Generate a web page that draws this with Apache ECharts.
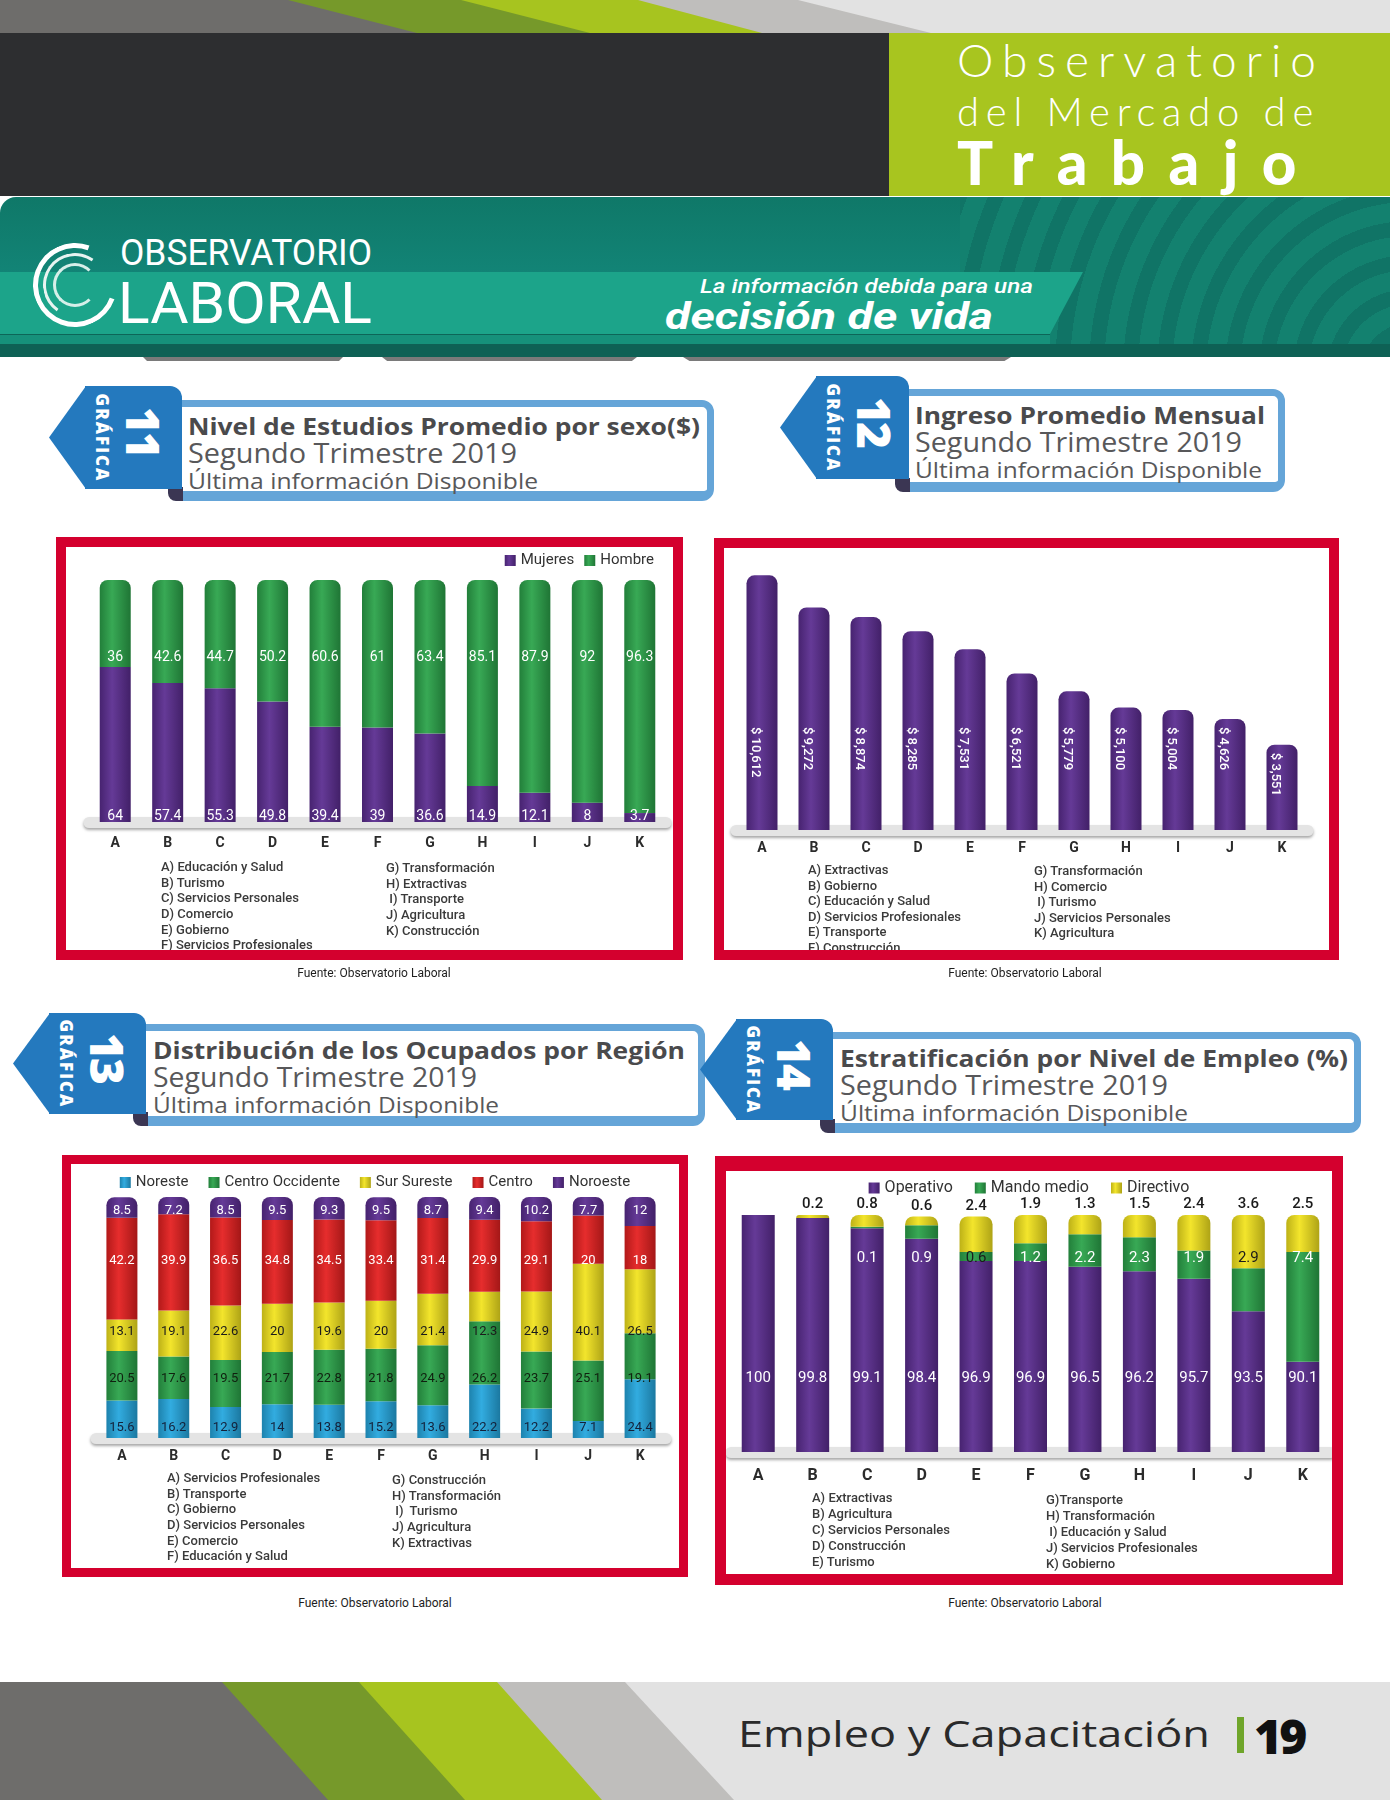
<!DOCTYPE html>
<html lang="es">
<head>
<meta charset="utf-8">
<title>Empleo y Capacitación 19</title>
<script src="https://cdn.jsdelivr.net/npm/echarts@6/dist/echarts.min.js"></script>
<style>
  body { margin: 0; background: #fff; }
  #page { position: relative; width: 1390px; height: 1800px; overflow: hidden; font-family: 'Open Sans', sans-serif; }
  .a { position: absolute; }
  .fit { position: absolute; white-space: nowrap; line-height: 1; transform: translateY(-50%); transform-origin: 0 50%; }
  .frame { position: absolute; box-sizing: border-box; border: 10px solid #d4002e; overflow: hidden; background: #fff; }
  .chart { position: absolute; left: 0; top: 0; width: 100%; height: 100%; }
  .sect { position: absolute; font-family: Roboto, sans-serif; font-size: 13px; font-weight: 500; color: #3a3a3a; white-space: pre; }
  .fuente { position: absolute; font-family: Roboto, sans-serif; font-size: 12px; color: #1e1e1e; transform: translate(-50%, -50%); white-space: nowrap; }
</style>
</head>
<body>
<div id="page">
  <!-- franja superior -->
  <div class="a" style="left:0;top:0;width:1390px;height:33px;background:#e2e2e2"></div>
  <div class="a" style="left:0;top:0;width:1390px;height:33px;background:#bfbebc;clip-path:polygon(0 0,798px 0,931px 33px,0 33px)"></div>
  <div class="a" style="left:0;top:0;width:1390px;height:33px;background:#a7c41f;clip-path:polygon(0 0,638px 0,762px 33px,0 33px)"></div>
  <div class="a" style="left:0;top:0;width:1390px;height:33px;background:#76992a;clip-path:polygon(0 0,461px 0,590px 33px,0 33px)"></div>
  <div class="a" style="left:0;top:0;width:1390px;height:33px;background:#6e6d6b;clip-path:polygon(0 0,288px 0,417px 33px,0 33px)"></div>

  <div class="a" style="left:0;top:33px;width:889px;height:163px;background:#2d2e30"></div>
  <div class="a" style="left:889px;top:33px;width:501px;height:163px;background:#a8c51f"></div>
  <div class="fit" data-ls="368" style="left:957px;top:60px;font-family:Lato;font-weight:300;font-size:46px;color:#fff">Observatorio</div>
  <div class="fit" data-ls="363" style="left:957px;top:111px;font-family:Lato;font-weight:300;font-size:40px;color:#fff">del Mercado de</div>
  <div class="fit" data-ls="363" style="left:957px;top:162px;font-family:Lato;font-weight:900;font-size:60px;color:#fff">Trabajo</div>

  <!-- banner -->
  <div class="a" style="left:0;top:197px;width:1390px;height:160px;background:linear-gradient(180deg,#0f7868 0%,#13877a 60%,#13877a 100%);border-top-left-radius:16px;overflow:hidden">
    <div class="a" style="left:960px;top:0;width:430px;height:160px;background:repeating-radial-gradient(circle at 450px 175px,#107466 0 15px,#13816f 15px 34px)"></div>
    <div class="a" style="left:0;top:75px;width:1083px;height:62px;background:#1ca48a;clip-path:polygon(0 0,1083px 0,1050px 62px,0 62px)"></div>
    <div class="a" style="left:0;top:137px;width:1050px;height:10px;background:#16917b;border-top:1px solid #0d6658"></div>
    <div class="a" style="left:0;top:147px;width:1390px;height:13px;background:#0e6155"></div>
  </div>
  <div class="a" style="left:143px;top:357px;width:200px;height:4px;background:#7a7a7a;clip-path:polygon(0 0,100% 0,98% 100%,2% 100%)"></div>
  <div class="a" style="left:382px;top:357px;width:255px;height:4px;background:#7a7a7a;clip-path:polygon(0 0,100% 0,98% 100%,2% 100%)"></div>
  <div class="a" style="left:683px;top:357px;width:328px;height:4px;background:#7a7a7a;clip-path:polygon(0 0,100% 0,98% 100%,2% 100%)"></div>

  <!-- logo -->
  <div class="a" style="left:33px;top:243px;width:84px;height:84px;box-sizing:border-box;border:5px solid #fff;border-right-color:transparent;border-radius:50%;transform:rotate(-25deg)"></div>
  <div class="a" style="left:43px;top:253px;width:64px;height:64px;box-sizing:border-box;border:3px solid #e8f4f1;border-right-color:transparent;border-bottom-color:transparent;border-radius:50%;transform:rotate(-10deg)"></div>
  <div class="a" style="left:53px;top:263px;width:44px;height:44px;box-sizing:border-box;border:3px solid #d6efe9;border-right-color:transparent;border-radius:50%"></div>
  <div class="fit" data-w="252" style="left:120px;top:253px;font-family:Roboto;font-size:36px;color:#fff">OBSERVATORIO</div>
  <div class="fit" data-w="254" style="left:118px;top:303px;font-family:Roboto;font-size:58px;color:#fff">LABORAL</div>
  <div class="fit" data-w="333" style="left:700px;top:286px;font-family:Roboto;font-style:italic;font-weight:500;font-size:20px;color:#fff">La información debida para una</div>
  <div class="fit" data-w="328" style="left:665px;top:316px;font-family:Roboto;font-style:italic;font-weight:700;font-size:37px;color:#fff">decisión de vida</div>

  <!-- marcos de las gráficas -->
  <div class="frame" id="f11" style="left:56px;top:537px;width:627px;height:423px;border-width:10px">
    <div class="chart" id="c11"></div>
  </div>
  <div class="frame" id="f12" style="left:714px;top:538px;width:625px;height:422px;border-width:10px">
    <div class="chart" id="c12"></div>
  </div>
  <div class="frame" id="f13" style="left:62px;top:1155px;width:626px;height:422px;border-width:9px">
    <div class="chart" id="c13"></div>
  </div>
  <div class="frame" id="f14" style="left:715px;top:1156px;width:628px;height:429px;border-width:15px 11px 11px 11px">
    <div class="chart" id="c14"></div>
  </div>

  <div class="fuente" style="left:374px;top:973px">Fuente: Observatorio Laboral</div>
  <div class="fuente" style="left:1025px;top:973px">Fuente: Observatorio Laboral</div>
  <div class="fuente" style="left:375px;top:1603px">Fuente: Observatorio Laboral</div>
  <div class="fuente" style="left:1025px;top:1603px">Fuente: Observatorio Laboral</div>

  <!-- pie de página -->
  <div class="a" style="left:0;top:1682px;width:1390px;height:118px;background:#e2e2e2"></div>
  <div class="a" style="left:0;top:1682px;width:1390px;height:118px;background:#bfbebc;clip-path:polygon(0 0,625px 0,734px 118px,0 118px)"></div>
  <div class="a" style="left:0;top:1682px;width:1390px;height:118px;background:#a7c41f;clip-path:polygon(0 0,497px 0,602px 118px,0 118px)"></div>
  <div class="a" style="left:0;top:1682px;width:1390px;height:118px;background:#76992a;clip-path:polygon(0 0,359px 0,465px 118px,0 118px)"></div>
  <div class="a" style="left:0;top:1682px;width:1390px;height:118px;background:#6e6d6b;clip-path:polygon(0 0,222px 0,328px 118px,0 118px)"></div>
  <div class="fit" data-w="472" style="left:738px;top:1732px;font-size:37px;color:#2a2a2a">Empleo y Capacitación</div>
  <div class="a" style="left:1237px;top:1717px;width:7px;height:36px;background:#6fa52a"></div>
  <div class="fit" style="left:1254px;top:1736px;font-size:48px;font-weight:800;letter-spacing:-3px;color:#111">19</div>
</div>

<script>
// Categorías y datos de cada gráfica
const cats = ['A', 'B', 'C', 'D', 'E', 'F', 'G', 'H', 'I', 'J', 'K'];

// Gráfica 11
const mujeres11 = [64, 57.4, 55.3, 49.8, 39.4, 39, 36.6, 14.9, 12.1, 8, 3.7];
const hombre11 = [36, 42.6, 44.7, 50.2, 60.6, 61, 63.4, 85.1, 87.9, 92, 96.3];
const sect11 = ['A) Educación y Salud', 'B) Turismo', 'C) Servicios Personales', 'D) Comercio', 'E) Gobierno', 'F) Servicios Profesionales',
  'G) Transformación', 'H) Extractivas', ' I) Transporte', 'J) Agricultura', 'K) Construcción'];

// Gráfica 12
const ingreso12 = [10612, 9272, 8874, 8285, 7531, 6521, 5779, 5100, 5004, 4626, 3551];
const sect12 = ['A) Extractivas', 'B) Gobierno', 'C) Educación y Salud', 'D) Servicios Profesionales', 'E) Transporte', 'F) Construcción',
  'G) Transformación', 'H) Comercio', ' I) Turismo', 'J) Servicios Personales', 'K) Agricultura'];

// Gráfica 13
const noreste13 = [15.6, 16.2, 12.9, 14, 13.8, 15.2, 13.6, 22.2, 12.2, 7.1, 24.4];
const centroOcc13 = [20.5, 17.6, 19.5, 21.7, 22.8, 21.8, 24.9, 26.2, 23.7, 25.1, 19.1];
const surSureste13 = [13.1, 19.1, 22.6, 20, 19.6, 20, 21.4, 12.3, 24.9, 40.1, 26.5];
const centro13 = [42.2, 39.9, 36.5, 34.8, 34.5, 33.4, 31.4, 29.9, 29.1, 20, 18];
const noroeste13 = [8.5, 7.2, 8.5, 9.5, 9.3, 9.5, 8.7, 9.4, 10.2, 7.7, 12];
const sect13 = ['A) Servicios Profesionales', 'B) Transporte', 'C) Gobierno', 'D) Servicios Personales', 'E) Comercio', 'F) Educación y Salud',
  'G) Construcción', 'H) Transformación', ' I)  Turismo', 'J) Agricultura', 'K) Extractivas'];

// Gráfica 14
const operativo14 = [100, 99.8, 99.1, 98.4, 96.9, 96.9, 96.5, 96.2, 95.7, 93.5, 90.1];
const mando14 = [0, 0, 0.1, 0.9, 0.6, 1.2, 2.2, 2.3, 1.9, 2.9, 7.4];
const directivo14 = [0, 0.2, 0.8, 0.6, 2.4, 1.9, 1.3, 1.5, 2.4, 3.6, 2.5];
const sect14 = ['A) Extractivas', 'B) Agricultura', 'C) Servicios Personales', 'D) Construcción', 'E) Turismo',
  'G)Transporte', 'H) Transformación', ' I) Educación y Salud', 'J) Servicios Profesionales', 'K) Gobierno'];

const PURPLE = '#5b2d90', GREEN = '#2ba34a', BLUE = '#25a7de', YELLOW = '#f2e31e', RED = '#e42020';

// encabezados GRÁFICA
const headers = [
  { n: '11', tx: 49, ty: 386, tw: 133, th: 103, bx: 168, by: 400, bw: 546, bh: 101,
    t: 'Nivel de Estudios Promedio por sexo($)', w: [512, 329, 350] },
  { n: '12', tx: 780, ty: 376, tw: 129, th: 103, bx: 895, by: 389, bw: 390, bh: 103,
    t: 'Ingreso Promedio Mensual', w: [350, 327, 347] },
  { n: '13', tx: 13, ty: 1013, tw: 133, th: 101, bx: 133, by: 1024, bw: 572, bh: 102,
    t: 'Distribución de los Ocupados por Región', w: [532, 324, 346] },
  { n: '14', tx: 700, ty: 1019, tw: 133, th: 101, bx: 820, by: 1032, bw: 541, bh: 101,
    t: 'Estratificación por Nivel de Empleo (%)', w: [508, 328, 348] }
];

const page = document.getElementById('page');
function add(parent, cls, style, text) {
  const d = document.createElement('div');
  d.className = cls;
  d.style.cssText = style;
  if (text !== undefined) d.textContent = text;
  parent.appendChild(d);
  return d;
}

headers.forEach(h => {
  add(page, 'a', `left:${h.bx}px;top:${h.by}px;width:${h.bw}px;height:${h.bh}px;box-sizing:border-box;border:7px solid #65a5d8;border-bottom-width:10px;border-radius:12px;background:#fff`);
  add(page, 'a', `left:${h.bx}px;top:${h.by + h.bh - 14}px;width:15px;height:14px;background:#3b3653;border-radius:0 0 0 8px`);
  add(page, 'a', `left:${h.tx}px;top:${h.ty}px;width:37px;height:${h.th}px;background:#2479be;clip-path:polygon(100% 0,100% 100%,0 50%)`);
  add(page, 'a', `left:${h.tx + 36}px;top:${h.ty}px;width:${h.tw - 36}px;height:${h.th}px;background:#2479be;border-radius:0 12px 0 0`);
  add(page, 'a', `left:${h.tx + 53}px;top:${h.ty + h.th / 2}px;transform:translate(-50%,-50%) rotate(90deg);font-weight:800;font-size:17px;letter-spacing:2px;color:#fff;white-space:nowrap;line-height:1`, 'GRÁFICA');
  add(page, 'a', `left:${h.tx + 95}px;top:${h.ty + h.th / 2 - 6}px;transform:translate(-50%,-50%) rotate(90deg);font-weight:800;font-size:46px;letter-spacing:-2px;color:#fff;white-space:nowrap;line-height:1`, h.n);
  add(page, 'fit', `left:${h.bx + 20}px;top:${h.by + 26}px;font-weight:700;font-size:24px;color:#4a4a4c`, h.t).dataset.w = h.w[0];
  add(page, 'fit', `left:${h.bx + 20}px;top:${h.by + 52}px;font-size:27px;color:#58585a`, 'Segundo Trimestre 2019').dataset.w = h.w[1];
  add(page, 'fit', `left:${h.bx + 20}px;top:${h.by + 80}px;font-size:22px;color:#58585a`, 'Última información Disponible').dataset.w = h.w[2];
});

// leyendas de sectores bajo cada gráfica
function sectores(frameId, list, nLeft, xl, yl, xr, yr, lh) {
  const f = document.getElementById(frameId);
  add(f, 'sect', `left:${xl}px;top:${yl - lh / 2}px;line-height:${lh}px`, list.slice(0, nLeft).join('\n'));
  add(f, 'sect', `left:${xr}px;top:${yr - lh / 2}px;line-height:${lh}px`, list.slice(nLeft).join('\n'));
}
sectores('f11', sect11, 6, 95, 320, 320, 321, 15.6);
sectores('f12', sect12, 6, 84, 322, 310, 323, 15.5);
sectores('f13', sect13, 6, 96, 314, 321, 316, 15.6);
sectores('f14', sect14, 5, 86, 327, 320, 329, 16);

// ajusta el ancho de los textos: estirando (data-w) o espaciando (data-ls)
function fitTexts() {
  document.querySelectorAll('[data-w]').forEach(el => {
    el.style.transform = 'translateY(-50%)';
    const w = el.getBoundingClientRect().width;
    el.style.transform = 'translateY(-50%) scaleX(' + (+el.dataset.w / w) + ')';
  });
  document.querySelectorAll('[data-ls]').forEach(el => {
    el.style.letterSpacing = '0px';
    const w = el.getBoundingClientRect().width;
    el.style.letterSpacing = ((+el.dataset.ls - w) / el.textContent.length) + 'px';
  });
}
fitTexts();
if (document.fonts && document.fonts.ready) document.fonts.ready.then(fitTexts);

// utilidades de estilo
function shade(hex, k) {
  const n = parseInt(hex.slice(1), 16);
  const f = v => Math.round(k < 0 ? v * (1 + k) : v + (255 - v) * k);
  return 'rgb(' + f(n >> 16) + ',' + f((n >> 8) & 255) + ',' + f(n & 255) + ')';
}
function cyl(c) {
  return new echarts.graphic.LinearGradient(0, 0, 1, 0, [
    { offset: 0, color: shade(c, -0.22) },
    { offset: 0.4, color: shade(c, 0.06) },
    { offset: 1, color: shade(c, -0.28) }
  ]);
}
function catAxis(margin, size) {
  return {
    type: 'category',
    data: cats,
    axisTick: { show: false },
    axisLine: { lineStyle: { color: '#e4e4e4', width: 11, shadowColor: 'rgba(0,0,0,0.35)', shadowBlur: 3, shadowOffsetY: 2 } },
    axisLabel: { margin: margin, fontFamily: 'Roboto', fontWeight: 'bold', fontSize: size, color: '#2b2b2b' }
  };
}
function rowAt(y) {
  return function (p) {
    return { x: p.rect.x + p.rect.width / 2, y: y, align: 'center', verticalAlign: 'middle' };
  };
}
function lbl(color, size) {
  return { show: true, color: color, fontSize: size, fontFamily: 'Roboto', formatter: p => (p.value ? String(p.value) : '') };
}
function legendOf(extra) {
  return Object.assign({
    icon: 'rect', itemWidth: 11, itemHeight: 11, itemGap: 16,
    textStyle: { fontFamily: 'Roboto', fontSize: 15, color: '#333' }
  }, extra);
}

// Gráfica 11
const c11 = echarts.init(document.getElementById('c11'));
c11.setOption({
  animation: false,
  legend: legendOf({ top: 1, right: 14, itemGap: 10, data: ['Mujeres', 'Hombre'] }),
  grid: { left: 23, right: 7, top: 33, bottom: 128 },
  xAxis: catAxis(14, 14),
  yAxis: { type: 'value', min: 0, max: 100, show: false },
  series: [
    { name: 'Mujeres', type: 'bar', stack: 's', barWidth: 31, data: mujeres11,
      itemStyle: { color: cyl(PURPLE) }, label: lbl('#fff', 14), labelLayout: rowAt(269) },
    { name: 'Hombre', type: 'bar', stack: 's', barWidth: 31, data: hombre11,
      itemStyle: { color: cyl(GREEN), borderRadius: [8, 8, 0, 0] }, label: lbl('#fff', 14), labelLayout: rowAt(110) }
  ]
});

// Gráfica 12 (etiqueta vertical: y marca el inicio del texto)
const c12 = echarts.init(document.getElementById('c12'));
c12.setOption({
  animation: false,
  grid: { left: 12, right: 21, top: 18, bottom: 120 },
  xAxis: catAxis(11, 14),
  yAxis: { type: 'value', min: 0, max: 11000, show: false },
  series: [
    { name: 'Ingreso', type: 'bar', barWidth: 31, data: ingreso12,
      itemStyle: { color: cyl(PURPLE), borderRadius: [8, 8, 0, 0] },
      label: { show: true, position: 'inside', rotate: -90, color: '#fff', fontSize: 13, fontWeight: 500, fontFamily: 'Roboto',
        formatter: p => '$ ' + p.value.toLocaleString('en-US') },
      labelLayout: p => ({ x: p.rect.x + p.rect.width / 2, y: Math.max(179, p.rect.y + 8) }) }
  ]
});

// Gráfica 13
const c13 = echarts.init(document.getElementById('c13'));
const reg13 = [
  ['Noreste', noreste13, BLUE, '#14213a', 264],
  ['Centro Occidente', centroOcc13, GREEN, '#10200f', 215],
  ['Sur Sureste', surSureste13, YELLOW, '#1b1b1b', 168],
  ['Centro', centro13, RED, '#fff', 97],
  ['Noroeste', noroeste13, PURPLE, '#fff', 47]
];
c13.setOption({
  animation: false,
  legend: legendOf({ top: 6, left: 'center', itemGap: 20 }),
  grid: { left: 25, right: 13, top: 33, bottom: 130 },
  xAxis: catAxis(11, 14),
  yAxis: { type: 'value', min: 0, max: 100, show: false },
  series: reg13.map((r, i) => ({
    name: r[0], type: 'bar', stack: 's', barWidth: 31, data: r[1],
    itemStyle: { color: cyl(r[2]), borderRadius: i === reg13.length - 1 ? [8, 8, 0, 0] : 0 },
    label: lbl(r[3], 13), labelLayout: rowAt(r[4])
  }))
});

// Gráfica 14
const c14 = echarts.init(document.getElementById('c14'));
c14.setOption({
  animation: false,
  legend: legendOf({ top: 4, left: 'center', itemGap: 22, textStyle: { fontFamily: 'Roboto', fontSize: 16, color: '#333' } }),
  grid: { left: 5, right: 2, top: 44, bottom: 122 },
  xAxis: catAxis(16, 16),
  yAxis: { type: 'value', min: 84, max: 100, show: false },
  series: [
    { name: 'Operativo', type: 'bar', stack: 's', barWidth: 33, data: operativo14,
      itemStyle: { color: cyl(PURPLE) }, label: lbl('#fff', 15), labelLayout: rowAt(207) },
    { name: 'Mando medio', type: 'bar', stack: 's', barWidth: 33,
      data: mando14.map((v, i) => (directivo14[i] >= 2.4 && v < 1 || directivo14[i] >= 3 ? { value: v, label: { color: '#1b1b1b' } } : v)),
      itemStyle: { color: cyl(GREEN) }, label: lbl('#fff', 15), labelLayout: rowAt(87) },
    { name: 'Directivo', type: 'bar', stack: 's', barWidth: 33, data: directivo14,
      itemStyle: { color: cyl(YELLOW), borderRadius: [8, 8, 0, 0] },
      label: Object.assign(lbl('#1b1b1b', 15), { position: 'top', distance: 3, fontWeight: 500 }) }
  ]
});
</script>
</body>
</html>
